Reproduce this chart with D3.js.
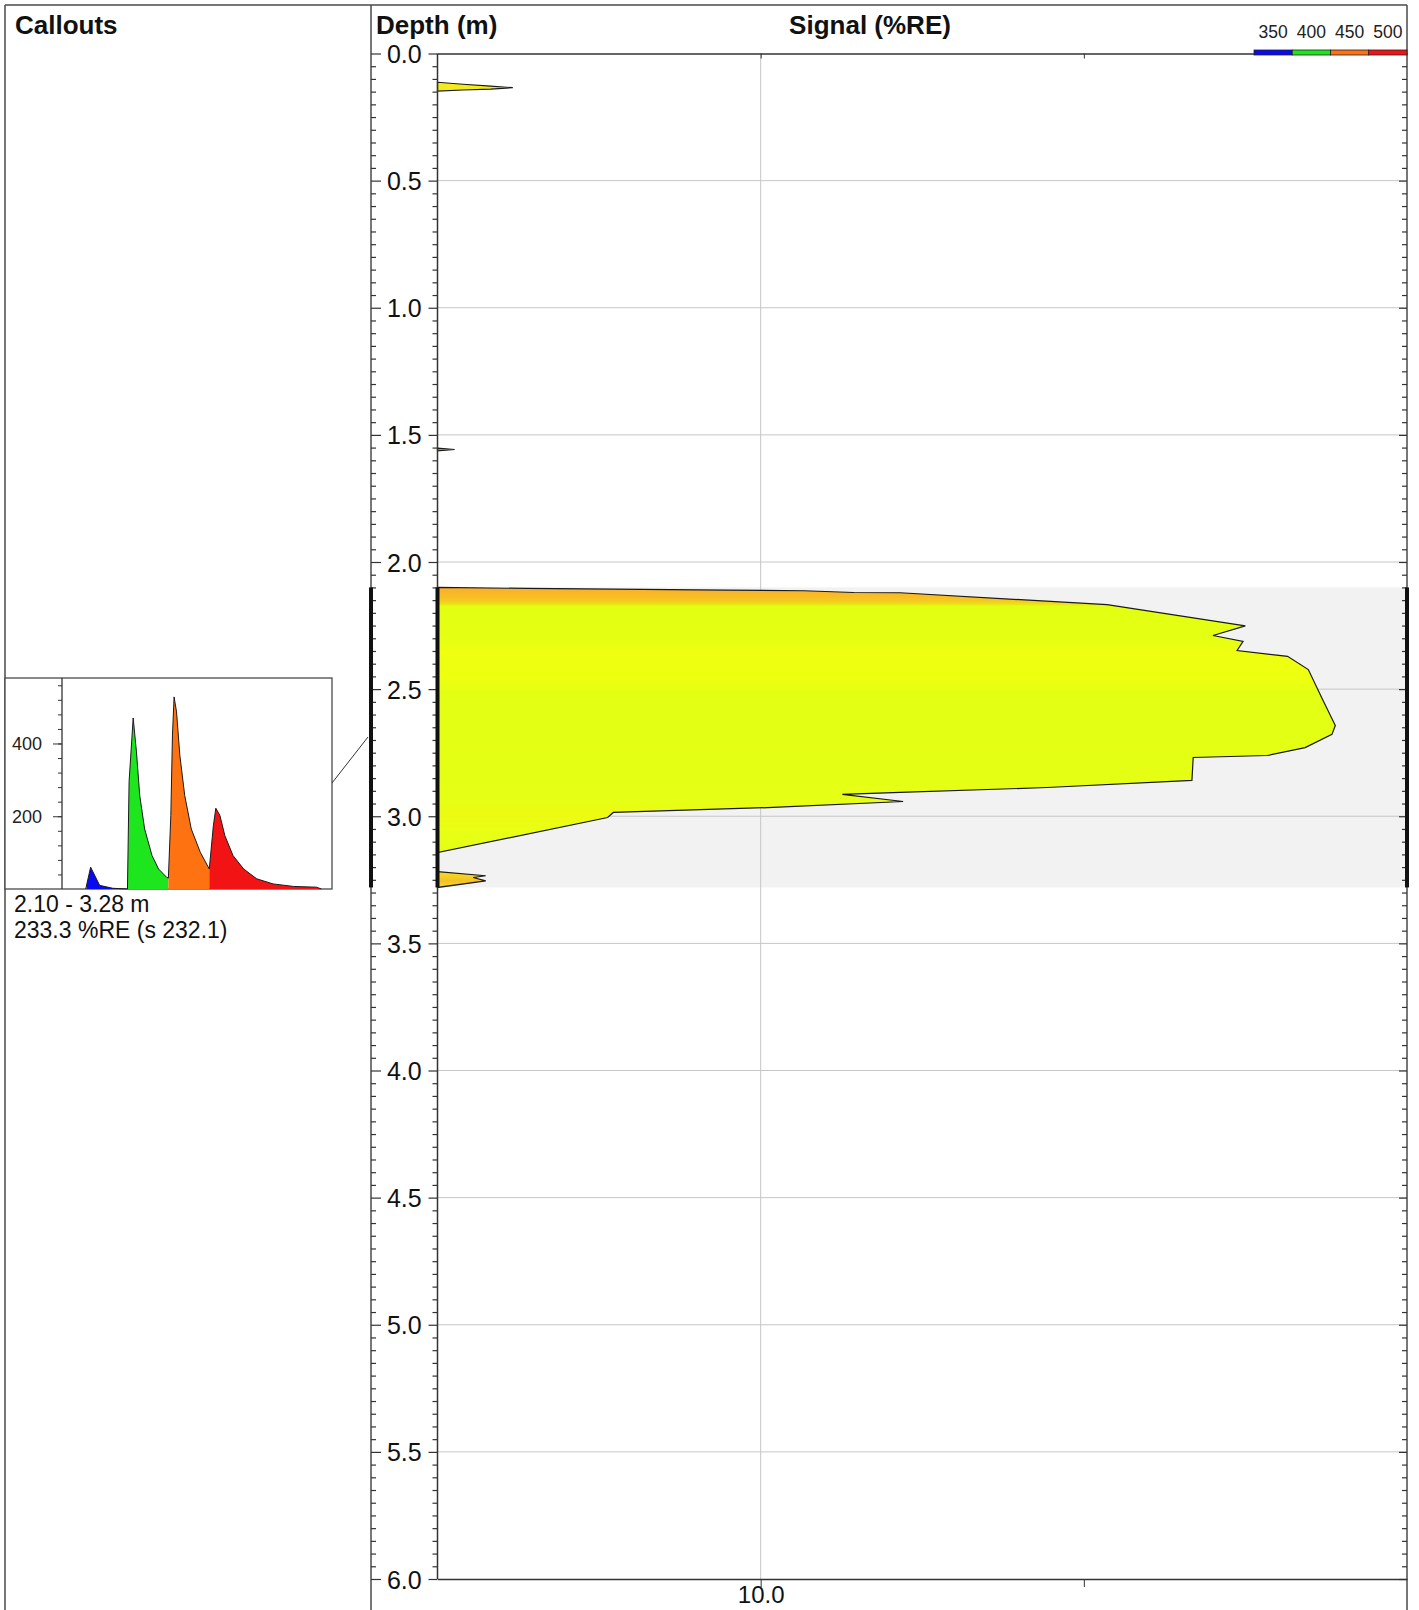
<!DOCTYPE html>
<html>
<head>
<meta charset="utf-8">
<script src="https://cdn.jsdelivr.net/npm/d3@7"></script>
<style>
  body { margin: 0; background: #fff; }
  svg { display: block; font-family: "Liberation Sans", Arial, sans-serif; }
</style>
</head>
<body>
<svg id="chart"></svg>
<script>
// ---- data ----
var depthMajor = d3.range(13).map(function (i) { return i * 0.5; });
var depthMinor = d3.range(121).map(function (i) { return +(i * 0.05).toFixed(2); })
    .filter(function (d) { return Math.abs(d * 2 - Math.round(d * 2)) > 1e-6; });
var signalTicks = [10, 100];
var signalLabels = ['10.0', ''];

// signal profile (depth m, %RE) : small pick near top
var topDepth = [0.113, 0.121, 0.128, 0.1345, 0.140, 0.1435, 0.1475];
var topSignal = [1, 1.2, 1.46, 1.71, 1.46, 1.2, 1];
// tiny pick near 1.56 m
var midDepth = [1.552, 1.5575, 1.563];
var midSignal = [1, 1.13, 1];
// main body 2.10 - 3.14 m
var mainDepth = [2.100, 2.104, 2.111, 2.113, 2.120, 2.121, 2.168, 2.251, 2.289, 2.312,
    2.348, 2.371, 2.423, 2.541, 2.643, 2.678, 2.730, 2.761, 2.769, 2.859,
    2.887, 2.906, 2.914, 2.942, 2.966, 2.985, 3.005, 3.143];
var mainSignal = [1, 1.9, 7.9, 13.6, 19.4, 27, 118, 316, 251, 311,
    298, 427, 495, 548, 600, 586, 484, 370, 218, 216,
    77, 27, 17.9, 27.6, 10.5, 3.5, 3.36, 1];
// small pick at the bottom of the interval
var lowDepth = [3.218, 3.234, 3.241, 3.254, 3.280];
var lowSignal = [1, 1.41, 1.29, 1.41, 1];

// callout interval
var calloutFrom = 2.10, calloutTo = 3.28;
var calloutMean = 233.3, calloutStd = 232.1;

// callout spectrum (wavelength nm, intensity)
var waveLength = [349, 355, 366, 382, 400, 402, 407, 411, 415, 421, 430, 438, 448, 450,
    453, 455, 457, 460, 464, 470, 478, 489, 500, 505, 508, 513, 519, 529,
    542, 558, 578, 603, 631, 637];
var intensity = [0, 60, 10, 2, 0, 295, 470, 377, 257, 165, 92, 55, 32, 30,
    202, 423, 528, 487, 368, 257, 165, 101, 55, 174, 222, 202, 147, 92,
    55, 28, 14, 7, 5, 0];
var intensityTicks = d3.range(1, 15).map(function (i) { return i * 40; });
var intensityLabels = [200, 400];

// legend bands
var bandLabels = ['350', '400', '450', '500'];
var bandStart = [350, 400, 450, 500];
var bandEnd = [400, 450, 500, 650];

// ---- styles ----
var bandColors = ['#0a0af2', '#1ee61e', '#ff7212', '#f21414'];
var shadeDepth = [2.10, 2.14, 2.160, 2.175, 2.30, 2.36, 2.46, 2.52, 2.95, 2.99, 3.06, 3.15, 3.20, 3.235, 3.255, 3.28];
var shadeColor = ['#f6b02c', '#f9bf24', '#f0d41a', '#e2ff12', '#e6ff12', '#f0ff10', '#eeff10', '#e2ff14',
    '#e6ff14', '#eefa12', '#e8ff14', '#e4ff14', '#f6e41e', '#f5d022', '#f4c028', '#f6dc20'];

var W = 1419, H = 1610;
var frameL = 5, frameT = 5, divX = 371, plotL = 437.5, plotR = 1407, plotT = 53.5, plotB = 1579;
var lineCol = '#4a4a4a';

var svg = d3.select('#chart').attr('width', W).attr('height', H);

var y = d3.scaleLinear().domain([0, 6]).range([plotT, plotB]);
var x = d3.scaleLog().domain([1, 1000]).range([plotL, plotR]);

// highlighted interval background
svg.append('rect')
    .attr('x', plotL).attr('y', y(calloutFrom))
    .attr('width', plotR - plotL).attr('height', y(calloutTo) - y(calloutFrom))
    .attr('fill', '#f2f2f2');

// grid
svg.append('g').selectAll('line')
    .data(depthMajor.filter(function (d) { return d > 0 && d < 6; }))
    .enter().append('line')
    .attr('x1', plotL).attr('x2', plotR)
    .attr('y1', function (d) { return y(d); }).attr('y2', function (d) { return y(d); })
    .attr('stroke', '#c6c6c6').attr('stroke-width', 1);
svg.append('line')
    .attr('x1', x(10)).attr('x2', x(10))
    .attr('y1', plotT).attr('y2', plotB)
    .attr('stroke', '#c6c6c6').attr('stroke-width', 1);

// gradient by depth
var grad = svg.append('defs').append('linearGradient')
    .attr('id', 'depthShade')
    .attr('gradientUnits', 'userSpaceOnUse')
    .attr('x1', 0).attr('x2', 0)
    .attr('y1', y(calloutFrom)).attr('y2', y(calloutTo));
grad.selectAll('stop').data(shadeDepth).enter().append('stop')
    .attr('offset', function (d) { return (d - calloutFrom) / (calloutTo - calloutFrom); })
    .attr('stop-color', function (d, i) { return shadeColor[i]; });

var area = d3.area()
    .y(function (d) { return y(d[0]); })
    .x0(x(1))
    .x1(function (d) { return x(d[1]); });

function profile(depths, values, fill) {
    svg.append('path')
        .datum(d3.zip(depths, values))
        .attr('d', area)
        .attr('fill', fill)
        .attr('stroke', '#1a1a1a')
        .attr('stroke-width', 1.2)
        .attr('stroke-linejoin', 'miter');
}
profile(topDepth, topSignal, '#f3ec1a');
profile(midDepth, midSignal, '#c88a40');
profile(mainDepth, mainSignal, 'url(#depthShade)');
profile(lowDepth, lowSignal, 'url(#depthShade)');

// frame
var frame = svg.append('g').attr('stroke', lineCol).attr('stroke-width', 1.5);
frame.append('line').attr('x1', frameL).attr('x2', plotR).attr('y1', frameT).attr('y2', frameT);
frame.append('line').attr('x1', frameL).attr('x2', frameL).attr('y1', frameT).attr('y2', H);
frame.append('line').attr('x1', divX).attr('x2', divX).attr('y1', frameT).attr('y2', H);
frame.append('line').attr('x1', plotR).attr('x2', plotR).attr('y1', frameT).attr('y2', H);

// depth axes (left divider, plot left, right border)
function depthAxis(axisFn, xpos, major, minor, withLabels) {
    var g = svg.append('g').attr('transform', 'translate(' + xpos + ',0)').attr('color', '#333');
    g.call(axisFn(y).tickValues(depthMinor).tickSize(minor).tickFormat(''))
        .call(function (s) { s.select('.domain').remove(); });
    var g2 = svg.append('g').attr('transform', 'translate(' + xpos + ',0)').attr('color', '#333');
    g2.call(axisFn(y).tickValues(depthMajor).tickSize(major)
        .tickFormat(withLabels ? d3.format('.1f') : ''))
        .call(function (s) { s.select('.domain').remove(); });
    g2.selectAll('line').attr('stroke-width', 1.2);
    g.selectAll('line').attr('stroke-width', 1.2);
    return g2;
}
depthAxis(d3.axisRight, divX, 10, 5, false);
depthAxis(d3.axisLeft, plotR, 8, 5, false);
var leftAx = depthAxis(d3.axisLeft, plotL, 9, 5, true);
leftAx.selectAll('text')
    .attr('x', (divX - plotL) / 2)
    .attr('text-anchor', 'middle')
    .attr('dy', '0.36em')
    .attr('font-size', 25)
    .attr('fill', '#111');

svg.append('line')
    .attr('x1', plotL).attr('x2', plotL).attr('y1', plotT).attr('y2', plotB)
    .attr('stroke', '#333').attr('stroke-width', 1.5);

// signal axes
var topAx = svg.append('g').attr('transform', 'translate(0,' + plotT + ')').attr('color', '#333')
    .call(d3.axisBottom(x).tickValues(signalTicks).tickSize(5).tickSizeOuter(0).tickFormat(''));
topAx.select('.domain').attr('stroke-width', 1.5);
var botAx = svg.append('g').attr('transform', 'translate(0,' + plotB + ')').attr('color', '#333')
    .call(d3.axisBottom(x).tickValues(signalTicks).tickSize(8).tickSizeOuter(0).tickPadding(2)
        .tickFormat(function (d, i) { return signalLabels[i]; }));
botAx.select('.domain').attr('stroke-width', 1.5);
botAx.selectAll('text').attr('font-size', 24).attr('fill', '#111').attr('dy', '0.6em');

// highlight bars
svg.append('g').selectAll('rect')
    .data([divX, plotL, plotR])
    .enter().append('rect')
    .attr('x', function (d) { return d - 2; })
    .attr('y', y(calloutFrom))
    .attr('width', 4)
    .attr('height', y(calloutTo) - y(calloutFrom))
    .attr('fill', '#111');

// headers
svg.append('text').attr('x', 15).attr('y', 34).attr('font-size', 26).attr('font-weight', 'bold')
    .attr('fill', '#111').text('Callouts');
svg.append('text').attr('x', 376).attr('y', 34).attr('font-size', 26).attr('font-weight', 'bold')
    .attr('fill', '#111').text('Depth (m)');
svg.append('text').attr('x', 870).attr('y', 34).attr('font-size', 26).attr('font-weight', 'bold')
    .attr('text-anchor', 'middle').attr('fill', '#111').text('Signal (%RE)');

// band legend
var legX = d3.scaleBand().domain(bandLabels).range([1254, plotR]).paddingInner(0);
var leg = svg.append('g');
leg.selectAll('rect').data(bandLabels).enter().append('rect')
    .attr('x', function (d) { return legX(d); })
    .attr('y', 50)
    .attr('width', legX.bandwidth())
    .attr('height', 5)
    .attr('fill', function (d, i) { return bandColors[i]; })
    .attr('stroke', '#222').attr('stroke-width', 0.8);
leg.selectAll('text').data(bandLabels).enter().append('text')
    .attr('x', function (d) { return legX(d) + legX.bandwidth() / 2; })
    .attr('y', 38)
    .attr('text-anchor', 'middle')
    .attr('font-size', 17.5)
    .attr('fill', '#222')
    .text(function (d) { return d; });

// ---- callout box with spectrum ----
var boxL = frameL, boxR = 332, boxT = 678, boxB = 889, axX = 62;
var wx = d3.scaleLinear().domain([320, 650]).range([axX, boxR]);
var wy = d3.scaleLinear().domain([0, 580]).range([boxB, boxT]);

svg.append('rect')
    .attr('x', boxL).attr('y', boxT).attr('width', boxR - boxL).attr('height', boxB - boxT)
    .attr('fill', '#fff').attr('stroke', lineCol).attr('stroke-width', 1.3);

var spec = d3.zip(waveLength, intensity);
var specArea = d3.area()
    .x(function (d) { return wx(d[0]); })
    .y0(wy(0))
    .y1(function (d) { return wy(d[1]); });
var specLine = d3.line()
    .x(function (d) { return wx(d[0]); })
    .y(function (d) { return wy(d[1]); });

var defs = svg.select('defs');
bandStart.forEach(function (b, i) {
    defs.append('clipPath').attr('id', 'band' + i)
        .append('rect')
        .attr('x', wx(b)).attr('y', boxT)
        .attr('width', wx(bandEnd[i]) - wx(b))
        .attr('height', boxB - boxT);
    svg.append('path')
        .datum(spec)
        .attr('d', specArea)
        .attr('clip-path', 'url(#band' + i + ')')
        .attr('fill', bandColors[i]);
});
svg.append('path')
    .datum(spec)
    .attr('d', specLine)
    .attr('fill', 'none')
    .attr('stroke', '#1a1a1a')
    .attr('stroke-width', 1);

var cAx = svg.append('g').attr('transform', 'translate(' + axX + ',0)').attr('color', '#333');
cAx.call(d3.axisLeft(wy).tickValues(intensityTicks).tickSize(4).tickFormat('').tickSizeOuter(0));
cAx.select('.domain').remove();
var cAx2 = svg.append('g').attr('transform', 'translate(' + axX + ',0)').attr('color', '#333');
cAx2.call(d3.axisLeft(wy).tickValues(intensityLabels).tickSize(9).tickPadding(11).tickSizeOuter(0));
cAx2.select('.domain').remove();
cAx2.selectAll('text').attr('font-size', 18).attr('fill', '#222');
svg.append('line').attr('x1', axX).attr('x2', axX).attr('y1', boxT).attr('y2', boxB)
    .attr('stroke', '#333').attr('stroke-width', 1.3);

// leader line to the interval
svg.append('line')
    .attr('x1', boxR).attr('y1', 783)
    .attr('x2', divX - 3).attr('y2', 737)
    .attr('stroke', '#333').attr('stroke-width', 1);

svg.append('text').attr('x', 14).attr('y', 912).attr('font-size', 23).attr('fill', '#111')
    .text(d3.format('.2f')(calloutFrom) + ' - ' + d3.format('.2f')(calloutTo) + ' m');
svg.append('text').attr('x', 14).attr('y', 938).attr('font-size', 23).attr('fill', '#111')
    .text(calloutMean.toFixed(1) + ' %RE (s ' + calloutStd.toFixed(1) + ')');
</script>
</body>
</html>
